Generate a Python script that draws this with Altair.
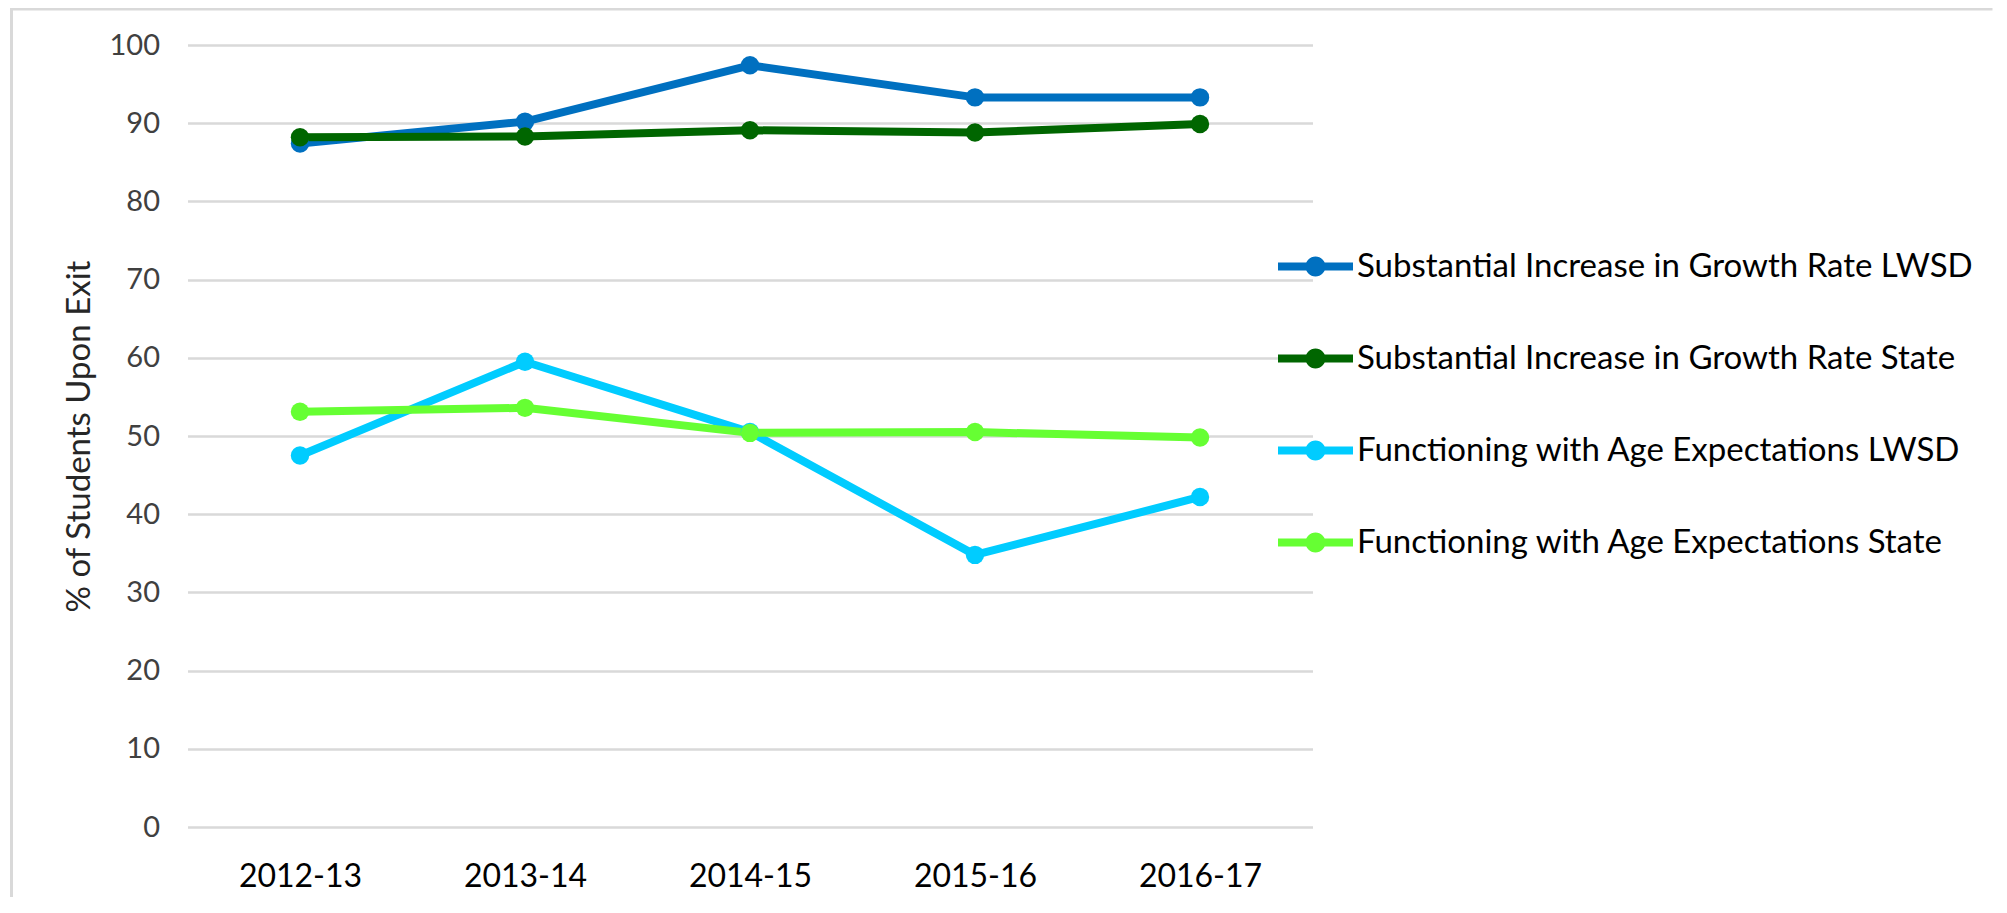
import altair as alt
import pandas as pd

years = ["2012-13", "2013-14", "2014-15", "2015-16", "2016-17"]
series_names = [
    "Substantial Increase in Growth Rate LWSD",
    "Substantial Increase in Growth Rate State",
    "Functioning with Age Expectations LWSD",
    "Functioning with Age Expectations State",
]
growth_lwsd = [87.4, 90.2, 97.4, 93.3, 93.3]
growth_state = [88.2, 88.3, 89.1, 88.8, 89.9]
func_lwsd = [47.5, 59.5, 50.5, 34.8, 42.2]
func_state = [53.1, 53.6, 50.4, 50.5, 49.8]
colors = ["#0070C0", "#006600", "#00CCFF", "#66FF33"]

rows = []
for name, vals in zip(series_names, [growth_lwsd, growth_state, func_lwsd, func_state]):
    for yr, v in zip(years, vals):
        rows.append({"Year": yr, "Series": name, "Value": v})
df = pd.DataFrame(rows)

FONT = "Lato"
W, H = 1125, 782
PAD = {"left": 179.5, "top": 37, "right": 680, "bottom": 70}

symbol_path = ("M-1,-0.107L1,-0.107L1,0.107L-1,0.107Z "
               "M-0.267,0A0.267,0.267 0 1,1 0.267,0A0.267,0.267 0 1,1 -0.267,0Z")

x_enc = alt.X("Year:N", sort=years, title=None,
              scale=alt.Scale(type="point", padding=0.5),
              axis=alt.Axis(labelAngle=0, ticks=False, domain=False, grid=False,
                            labelFont=FONT, labelFontSize=32, labelColor="#000000",
                            labelPadding=34))
y_enc = alt.Y("Value:Q", title="% of Students Upon Exit",
              scale=alt.Scale(domain=[0, 100], nice=False, zero=True),
              axis=alt.Axis(values=list(range(0, 101, 10)), ticks=False, domain=False,
                            grid=True, gridColor="#d9d9d9", gridWidth=2.5,
                            labelFont=FONT, labelFontSize=29, labelColor="#404040",
                            labelPadding=28, titleFont=FONT, titleFontSize=33,
                            titleFontWeight="normal", titleColor="#262626",
                            titlePadding=13))
color_scale = alt.Scale(domain=series_names, range=colors)
legend = alt.Legend(
    title=None, orient="none", legendX=1090.5, legendY=184,
    direction="vertical", padding=0,
    symbolType=symbol_path, symbolSize=5625,
    symbolStrokeWidth=0, symbolOpacity=1,
    rowPadding=37, labelOffset=4,
    labelFont=FONT, labelFontSize=33, labelColor="#000000",
    labelLimit=900,
)
color_enc = alt.Color("Series:N", sort=series_names, scale=color_scale, legend=legend)

lines = alt.Chart(df).mark_line(
    strokeWidth=8, strokeJoin="round", strokeCap="round",
).encode(x=x_enc, y=y_enc, color=color_enc)

points = alt.Chart(df).mark_point(filled=True, size=340, opacity=1).encode(
    x=x_enc, y=y_enc, color=color_enc,
)

frame_df = pd.DataFrame({"k": [0]})
left_border = alt.Chart(frame_df).mark_rule(color="#d9d9d9", strokeWidth=3).encode(
    x=alt.value(-176), y=alt.value(-36), y2=alt.value(H + PAD["bottom"])
)
top_border = alt.Chart(frame_df).mark_rule(color="#d9d9d9", strokeWidth=3).encode(
    x=alt.value(-177.5), x2=alt.value(W + PAD["right"]), y=alt.value(-36)
)

chart = alt.layer(left_border, top_border, lines, points).properties(
    width=W, height=H,
    autosize=alt.AutoSizeParams(type="none"),
    padding=PAD,
    background="white",
).configure_view(strokeWidth=0, stroke="transparent")

chart.save("out.html", embed_options={"renderer": "svg", "actions": False})
